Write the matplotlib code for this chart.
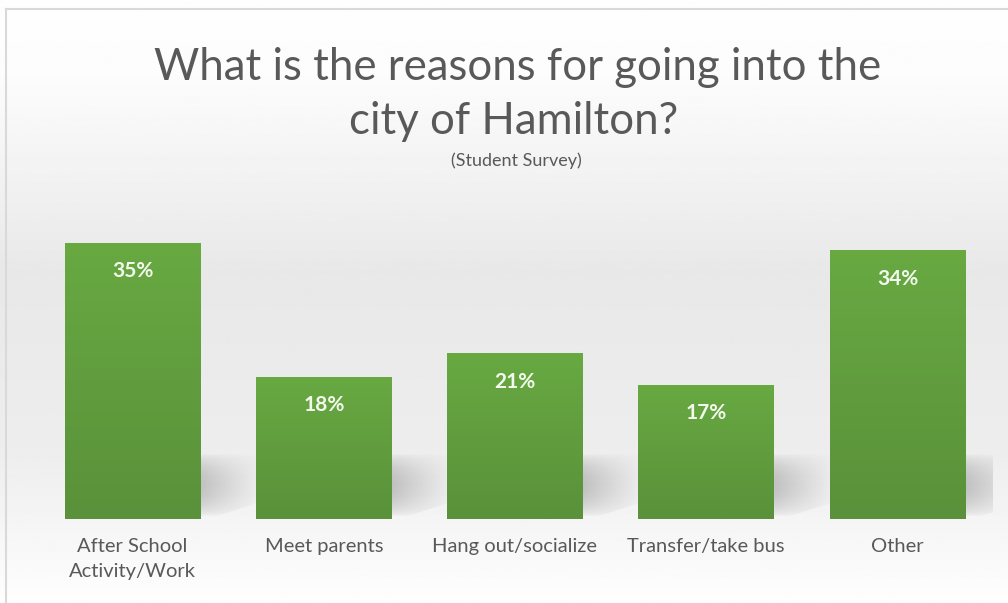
import numpy as np
import matplotlib.pyplot as plt
from matplotlib.patches import Polygon
from matplotlib.colors import LinearSegmentedColormap

categories = ["After School\nActivity/Work", "Meet parents", "Hang out/socialize",
              "Transfer/take bus", "Other"]
values = [35, 18, 21, 17, 34]
labels = ["35%", "18%", "21%", "17%", "34%"]

font = "Lato"

fig = plt.figure(figsize=(10.08, 6.03), dpi=100)

# background gradient, white at top/bottom and light gray in the middle
bg = fig.add_axes([0, 0, 1, 1], zorder=-10)
bg.set_axis_off()
ys = np.linspace(0, 1, 300)
shade = np.interp(ys, [0, 0.12, 0.45, 0.75, 1.0], [0.995, 0.99, 0.91, 0.93, 0.995])
bg.imshow(shade[:, None] * np.ones((1, 10)), cmap="gray", vmin=0, vmax=1,
          aspect="auto", extent=[0, 1, 0, 1], origin="upper")
bg.set_xlim(0, 1)
bg.set_ylim(0, 1)
bg.plot([0.006, 0.006], [0, 0.985], color="#d9d9d9", lw=1.5)
bg.plot([0.006, 1], [0.985, 0.985], color="#d9d9d9", lw=1.5)

ax = fig.add_axes([37 / 1008, (603 - 519) / 603, 956 / 1008, 316 / 603])
ax.patch.set_alpha(0)
x = np.arange(len(values))
w = 0.71

# soft shadows behind the bars (fade to the right and upward)
gx = np.linspace(0, 1, 60)[None, :]
gy = np.linspace(0, 1, 60)[:, None]
alpha = 0.42 * (1 - gx) ** 1.2 * np.clip(np.sin(np.pi * np.clip(gy * 1.1, 0, 1)), 0, 1) ** 0.7
rgba = np.zeros((60, 60, 4))
rgba[..., :3] = 0.5
rgba[..., 3] = alpha
for xi, v in zip(x, values):
    xr = xi + w / 2
    top = min(9.0, v)
    poly = Polygon([(xr, 0.2), (xr, top), (xr + 0.32, top - 1.0), (xr + 0.36, 2.5), (xr + 0.06, 0.2)],
                   closed=True, facecolor="none", edgecolor="none")
    ax.add_patch(poly)
    im = ax.imshow(rgba, aspect="auto", origin="lower", interpolation="bilinear",
                   extent=[xr, xr + 0.36, 0.2, top], zorder=1)
    im.set_clip_path(poly)

# bars with slight vertical gradient
bar_cmap = LinearSegmentedColormap.from_list("g", ["#5a913a", "#68a942"])
bars = ax.bar(x, values, width=w, color="#62a03e", zorder=2)
for b in bars:
    bx, by = b.get_x(), b.get_y()
    bw, bh = b.get_width(), b.get_height()
    grad = np.linspace(0, 1, 100)[:, None]
    im = ax.imshow(grad, cmap=bar_cmap, aspect="auto", origin="lower",
                   extent=[bx, bx + bw, by, by + bh], zorder=3)
    im.set_clip_path(b)

for xi, v, lab in zip(x, values, labels):
    ax.text(xi, v - 3.6, lab, ha="center", va="center", color="#f4f9ee",
            fontsize=15, fontweight="bold", fontfamily=font, zorder=4)

ax.set_xlim(-0.5, len(values) - 0.5)
ax.set_ylim(0, 40)
ax.set_xticks(x)
ax.set_xticklabels(categories, fontsize=14.5, color="#595959", fontfamily=font,
                   linespacing=1.55, va="top")
ax.tick_params(axis="x", length=0, pad=14)
ax.set_yticks([])
for s in ax.spines.values():
    s.set_visible(False)

fig.text(0.513, 1 - 68 / 603, "What is the reasons for going into the", ha="center", va="center",
         fontsize=31.5, color="#595959", fontfamily=font)
fig.text(0.509, 1 - 122 / 603, "city of Hamilton?", ha="center", va="center",
         fontsize=31.5, color="#595959", fontfamily=font)
fig.text(0.512, 1 - 161 / 603, "(Student Survey)", ha="center", va="center",
         fontsize=13, color="#595959", fontfamily=font)

fig.savefig("out.png", dpi=100)
